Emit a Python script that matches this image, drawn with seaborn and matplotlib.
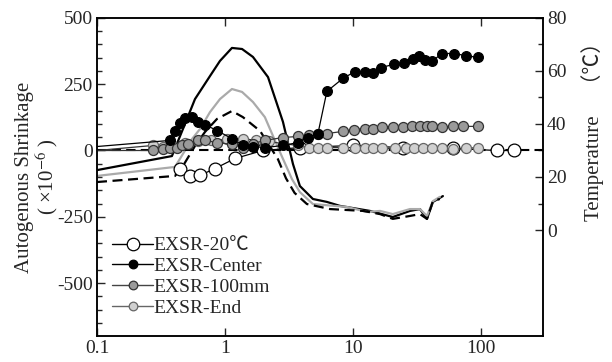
import matplotlib
matplotlib.use("Agg")
import matplotlib.pyplot as plt
from matplotlib.lines import Line2D
from matplotlib.ticker import FixedLocator, NullLocator
import pandas as pd
import seaborn as sns

# ---- autogenous shrinkage (x10^-6) against age (days) ----
t_20c = [0.445, 0.533, 0.638, 0.836, 1.20, 1.98, 3.85, 10.0, 24.6, 60.4, 133, 181]
s_20c = [-68, -98, -94, -68, -30, 0, 11, 19, 11, 8, 0, 0]

t_center = [0.1, 0.372, 0.407, 0.445, 0.487, 0.552, 0.615, 0.698, 0.866, 1.134,
            1.38, 1.655, 2.05, 2.84, 3.72, 4.45, 5.33, 6.26, 8.35, 10.4,
            12.4, 14.3, 16.5, 20.9, 25.0, 29.4, 32.8, 36.5, 41.4, 49.6,
            61.5, 76.3, 94.8]
s_center = [15, 38, 75, 102, 121, 125, 109, 98, 75, 45,
            19, 15, 11, 19, 30, 49, 64, 223, 272, 298,
            298, 291, 313, 325, 332, 347, 358, 343, 336, 366,
            366, 358, 351]

t_100mm = [0.1, 0.274, 0.328, 0.372, 0.422, 0.461, 0.514, 0.615, 0.698, 0.866,
           1.134, 1.38, 1.655, 2.05, 2.84, 3.72, 4.53, 5.33, 6.26, 8.35,
           10.2, 12.4, 14.3, 16.9, 20.5, 24.6, 28.9, 33.4, 37.9, 41.4,
           49.6, 60.4, 72.3, 94.8]
s_100mm = [0, 0, 4, 8, 11, 19, 26, 38, 38, 30,
           23, 11, 26, 38, 49, 53, 60, 64, 64, 72,
           79, 83, 83, 87, 87, 87, 91, 91, 91, 91,
           87, 91, 91, 91]

t_end = [0.1, 0.274, 0.328, 0.38, 0.487, 0.615, 0.78, 1.04, 1.38, 1.75, 2.2,
         2.84, 3.72, 4.53, 5.33, 6.26, 8.35, 10.4, 12.4, 14.3, 16.9,
         21.5, 26, 30, 35, 41.4, 49.6, 60.4, 76.3, 94.8]
s_end = [0, 19, 15, 23, 30, 34, 38, 42, 45, 38, 34,
         26, 19, 11, 11, 11, 11, 11, 8, 8, 8,
         8, 11, 8, 8, 8, 8, 4, 8, 11]

# ---- temperature (deg C) against age (days) ----
tt_center = [0.1, 0.385, 0.487, 0.583, 0.764, 0.914, 1.134, 1.36, 1.655, 2.17,
             2.84, 3.40, 3.85, 4.87, 6.26, 7.91, 13.6, 20.5, 27.9, 33.4,
             37.9, 42.2, 50.5]
temp_center = [22.6, 27.9, 40.0, 49.4, 58.1, 63.8, 68.7, 68.3, 65.3, 57.7,
               40.8, 24.9, 16.6, 11.7, 10.6, 9.1, 7.2, 4.9, 7.2, 7.9,
               4.2, 10.6, 12.8]

tt_100mm = [0.1, 0.407, 0.552, 0.638, 0.764, 0.914, 1.134, 1.36, 1.655, 2.05,
            2.69, 3.34, 3.85, 4.87, 8.98, 12.9, 16.3, 20.5, 27.9, 33.4,
            37.9, 42.2, 47.8]
temp_100mm = [20.4, 23.8, 34.3, 38.1, 44.5, 49.4, 53.2, 52.1, 48.3, 42.6,
              29.4, 19.2, 14.3, 9.8, 8.7, 6.8, 7.2, 6.0, 7.9, 7.9,
              5.3, 10.9, 12.5]

tt_end = [0.1, 0.407, 0.470, 0.583, 0.698, 0.866, 1.134, 1.38, 1.88, 2.59,
          3.0, 3.5, 4.37, 6.62, 12.0, 16.3, 20.5, 27.9, 33.4, 37.9,
          42.2, 47.8]
temp_end = [18.1, 20.4, 24.2, 31.7, 37.0, 41.9, 44.9, 42.6, 37.4, 26.8,
            19.5, 14.0, 9.8, 7.9, 7.2, 6.0, 4.2, 5.3, 6.0, 4.2,
            10.9, 11.7]

labels = ["EXSR-20℃", "EXSR-Center", "EXSR-100mm", "EXSR-End"]
x_ticks = [0.1, 1, 10, 100]
x_ticklabels = ["0.1", "1", "10", "100"]
y_ticks = [-500, -250, 0, 250, 500]
temp_ticks = [0, 20, 40, 60, 80]

sns.set_style("ticks")
plt.rcParams["font.family"] = ["Liberation Serif", "Noto Sans CJK JP", "DejaVu Sans"]
plt.rcParams["mathtext.fontset"] = "stix"
plt.rcParams["font.size"] = 14

fig = plt.figure(figsize=(6.12, 3.62), dpi=100)
fig.patch.set_facecolor("white")
ax = fig.add_axes([0.1585, 0.0718, 0.7285, 0.8785])
ax2 = ax.twinx()
ax.set_zorder(ax2.get_zorder() + 1)
ax.patch.set_visible(False)
ax.set_xscale("log")
ax2.set_xscale("log")

# temperature histories
temp_styles = [
    (tt_center, temp_center, dict(color="black", linestyle="-")),
    (tt_100mm, temp_100mm, dict(color="#aaaaaa", linestyle="-")),
    (tt_end, temp_end, dict(color="black", linestyle=(0, (4.5, 2.5)))),
]
for tx, ty, st in temp_styles:
    df = pd.DataFrame({"t": tx, "T": ty})
    sns.lineplot(data=df, x="t", y="T", ax=ax2, estimator=None, sort=False,
                 linewidth=1.6, **st)

# zero reference
ax.axhline(0, color="black", linestyle=(0, (4.5, 2.5)), linewidth=1.5, zorder=1)

# shrinkage series
series = [
    (t_20c, s_20c, dict(color="black", markerfacecolor="white",
                        markeredgecolor="black", markersize=9.2), None),
    (t_end, s_end, dict(color="#333333", markerfacecolor="#d0d0d0",
                        markeredgecolor="#666666", markersize=7.2), slice(1, None)),
    (t_100mm, s_100mm, dict(color="#333333", markerfacecolor="#9a9a9a",
                            markeredgecolor="#333333", markersize=7.2), slice(1, None)),
    (t_center, s_center, dict(color="black", markerfacecolor="black",
                              markeredgecolor="black", markersize=7.0), slice(1, None)),
]
for sx, sy, st, mev in series:
    df = pd.DataFrame({"t": sx, "s": sy})
    kw = dict(st)
    if mev is not None:
        kw["markevery"] = mev
    sns.lineplot(data=df, x="t", y="s", ax=ax, estimator=None, sort=False,
                 marker="o", linewidth=0.9, markeredgewidth=0.9, **kw)

# axes ranges and ticks
ax.set_xlim(0.1, 305)
ax.set_ylim(-700, 500)
ax2.set_ylim(-40, 80)
ax.xaxis.set_major_locator(FixedLocator(x_ticks))
ax.set_xticklabels(x_ticklabels)
ax.xaxis.set_minor_locator(NullLocator())
ax2.xaxis.set_minor_locator(NullLocator())
ax.set_yticks(y_ticks)
ax.set_yticklabels([str(v) for v in y_ticks])
ax.yaxis.set_minor_locator(FixedLocator(list(range(-650, 500, 50))))
ax2.set_yticks(temp_ticks)
ax2.set_yticklabels([str(v) for v in temp_ticks])
ax2.yaxis.set_minor_locator(FixedLocator([10, 30, 50, 70]))

ax.tick_params(axis="both", which="both", direction="in", top=True, right=False,
               labelsize=14, width=1.0, pad=3)
ax.tick_params(axis="both", which="major", length=6)
ax.tick_params(axis="y", which="minor", length=3.5)
ax2.tick_params(axis="y", which="both", direction="in", right=True, left=False,
                labelsize=14, width=1.0, pad=3)
ax2.tick_params(axis="y", which="major", length=6)
ax2.tick_params(axis="y", which="minor", length=3.5)
ax2.tick_params(axis="x", which="both", top=False, bottom=False,
                labeltop=False, labelbottom=False)

for a in (ax, ax2):
    for sp in a.spines.values():
        sp.set_visible(True)
        sp.set_linewidth(1.1)
        sp.set_color("black")

ax.set_xlabel("")
ax.set_ylabel("Autogenous Shrinkage\n( ×10$^{-6}$ )", fontsize=15, linespacing=1.0)
ax.yaxis.set_label_coords(-0.082, 0.5)
ax2.set_ylabel("Temperature　（℃）", fontsize=15)
ax2.yaxis.set_label_coords(1.085, 0.66)

# legend
handles = [
    Line2D([], [], color="black", lw=1.0, marker="o", ms=9,
           mfc="white", mec="black", mew=0.9),
    Line2D([], [], color="black", lw=1.0, marker="o", ms=6.2,
           mfc="black", mec="black", mew=0.9),
    Line2D([], [], color="#444444", lw=1.0, marker="o", ms=6.2,
           mfc="#9a9a9a", mec="#333333", mew=0.9),
    Line2D([], [], color="#666666", lw=1.0, marker="o", ms=6.2,
           mfc="#d0d0d0", mec="#666666", mew=0.9),
]
ax.legend(handles, labels, loc="upper left", bbox_to_anchor=(0.034, 0.312),
          frameon=False, borderpad=0, borderaxespad=0, handlelength=2.1,
          handletextpad=0.0, labelspacing=0.16, fontsize=14)

fig.savefig("out.png", dpi=100, facecolor="white")
